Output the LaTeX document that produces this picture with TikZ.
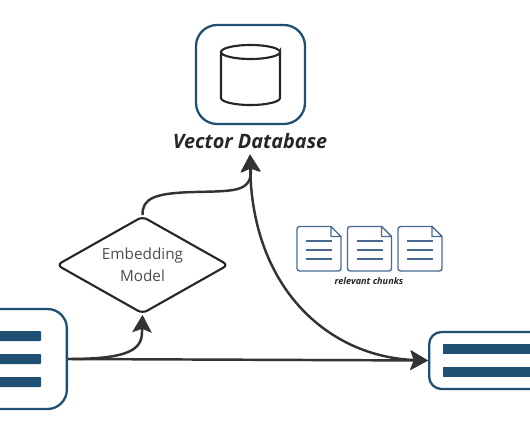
\documentclass[tikz,border=0pt]{standalone}
\usepackage{fontspec}
\setmainfont{Open Sans}
\definecolor{mynavy}{HTML}{1F5074}
\definecolor{mydoc}{HTML}{4A6A94}
\definecolor{myline}{HTML}{333333}
\usetikzlibrary{arrows.meta, shapes.geometric}
\tikzset{
	roundbox/.style={draw=mynavy, line width=1.3pt, fill=white, inner sep=0pt}
}
\tikzset{
	flowline/.style={draw=myline, line width=1.4pt, -{Stealth[length=10pt, width=11pt, inset=2pt]}}
}
\tikzset{
	barline/.style={fill=mynavy, rounded corners=0.5pt}
}
\begin{document}
\begin{tikzpicture}[x=0.02cm, y=-0.02cm]
      \useasboundingbox (0,0) rectangle (530,442);
      % boxes and labels
      \node[roundbox, rounded corners=12pt, minimum width=2.18cm, minimum height=1.98cm] (dbbox) at (250.5,74.5) {};
      \node[inner sep=0pt, minimum height=0.52cm, font=\fontsize{11.3pt}{14pt}\selectfont\bfseries\itshape, text=black!85] (dblabel) at (250,141) {Vector Database};
      \node[draw=black!85, line width=1.2pt, shape=diamond, rounded corners=3pt, aspect=1.74, inner sep=0pt, minimum width=3.44cm, minimum height=1.95cm, align=center, text=black!70, font=\fontsize{8.7pt}{12.5pt}\selectfont] (embed) at (142.5,265) {Embedding\\Model};
      \node[roundbox, rounded corners=11pt, anchor=east, minimum width=2.6cm, minimum height=2cm] (inbox) at (68,359) {};
      \node[roundbox, rounded corners=7pt, anchor=west, minimum width=2.6cm, minimum height=1.14cm] (outbox) at (428,360.5) {};
      % cylinder
      \draw[black!85, line width=1.2pt] (221,52) -- (221,98) arc[start angle=180, end angle=0, x radius=29.5, y radius=7] -- (280,52) arc[start angle=0, end angle=360, x radius=29.5, y radius=7];
      % bars
      \foreach \y in {331, 354, 377}
        \fill[barline] (-5,\y) rectangle (41,\y+10);
      \foreach \y in {344, 367}
        \fill[mynavy] (443,\y) rectangle (540,\y+10);
      % chunks
      \foreach \x in {297, 347.5, 398} {
        \draw[mydoc, line width=0.8pt, rounded corners=1.5pt] (\x+34,226.5) -- (\x,226.5) -- (\x,271) -- (\x+44,271) -- (\x+44,236.5);
        \draw[mydoc, line width=0.8pt, line join=round] (\x+34,226.5) -- (\x+44,236.5) -- (\x+34,236.5) -- cycle;
        \foreach \y in {241, 250, 259}
          \draw[mydoc, line width=0.8pt] (\x+9,\y) -- (\x+35,\y);
      }
      \node[inner sep=0pt, font=\fontsize{5.2pt}{6pt}\selectfont\bfseries\itshape, text=black!85] (chunklabel) at (369,281) {relevant chunks};
      % connectors
      \draw[flowline] (inbox.east) -- (outbox.west);
      \draw[flowline] (inbox.east) .. controls (128,359) and (142,350) .. (142,332) -- (embed.south);
      \draw[flowline] (embed.north) .. controls (142,198) and (155,193) .. (195,192) .. controls (235,191) and (251,192) .. (251,170) -- (dblabel.south);
      \draw[flowline, {Stealth[length=10pt, width=11pt, inset=2pt]}-{Stealth[length=10pt, width=11pt, inset=2pt]}] (dblabel.south) .. controls (252,290) and (330,357) .. (outbox.west);
    \end{tikzpicture}
\end{document}
